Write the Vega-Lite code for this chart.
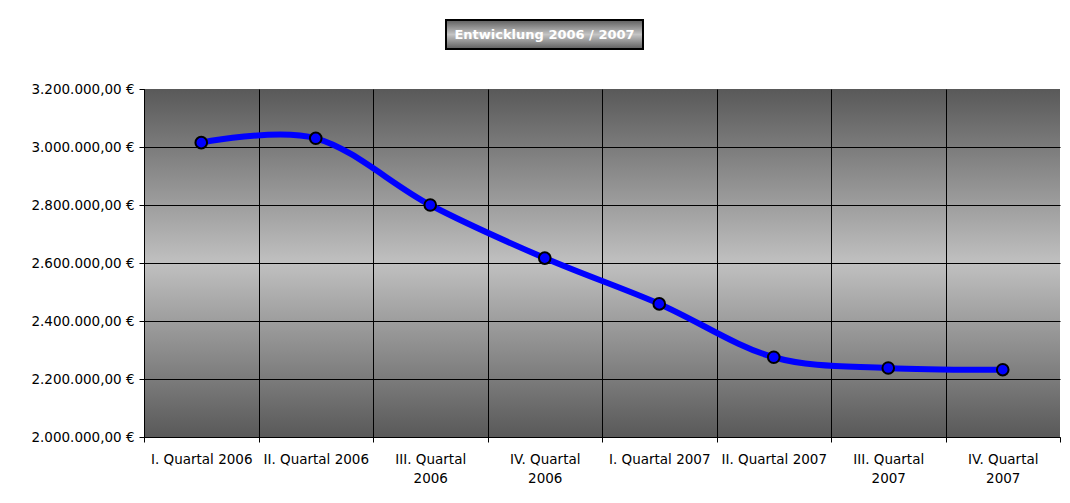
{
  "$schema": "https://vega.github.io/schema/vega-lite/v6.json",
  "background": "white",
  "padding": {"left": 30, "top": 19, "right": 5, "bottom": 5},
  "datasets": {
    "umsatz": [
      {"quartal": "I. Quartal 2006", "wert": 3015000},
      {"quartal": "II. Quartal 2006", "wert": 3030000},
      {"quartal": "III. Quartal 2006", "wert": 2800000},
      {"quartal": "IV. Quartal 2006", "wert": 2617000},
      {"quartal": "I. Quartal 2007", "wert": 2459000},
      {"quartal": "II. Quartal 2007", "wert": 2275000},
      {"quartal": "III. Quartal 2007", "wert": 2238000},
      {"quartal": "IV. Quartal 2007", "wert": 2232000}
    ],
    "titel": [{"text": "Entwicklung 2006 / 2007"}]
  },
  "center": false,
  "spacing": 32,
  "vconcat": [
    {
      "spacing": 11,
      "hconcat": [
        {
          "width": 290,
          "height": 29,
          "data": {"name": "titel"},
          "view": {"fill": null, "stroke": null},
          "mark": {"type": "text", "opacity": 0},
          "encoding": {"text": {"field": "text"}}
        },
        {
          "width": 197,
          "height": 29,
          "data": {"name": "titel"},
          "view": {
            "fill": {
              "gradient": "linear", "x1": 0, "y1": 0, "x2": 0, "y2": 1,
              "stops": [
                {"offset": 0, "color": "#5e5e5e"},
                {"offset": 0.5, "color": "#c4c4c4"},
                {"offset": 1, "color": "#5e5e5e"}
              ]
            },
            "stroke": "black",
            "strokeWidth": 2
          },
          "mark": {"type": "text", "font": "DejaVu Sans", "fontSize": 13, "fontWeight": "bold", "color": "white", "align": "center", "baseline": "middle"},
          "encoding": {"text": {"field": "text"}}
        }
      ]
    },
    {
      "width": 916,
      "height": 348,
      "data": {"name": "umsatz"},
      "view": {
        "fill": {
          "gradient": "linear", "x1": 0, "y1": 0, "x2": 0, "y2": 1,
          "stops": [
            {"offset": 0, "color": "#595959"},
            {"offset": 0.5, "color": "#c0c0c0"},
            {"offset": 1, "color": "#595959"}
          ]
        },
        "stroke": null
      },
      "encoding": {
        "x": {
          "field": "quartal",
          "type": "nominal",
          "sort": null,
          "bandPosition": 0.5,
          "scale": {"type": "band", "paddingInner": 0, "paddingOuter": 0},
          "axis": {
            "title": null,
            "tickBand": "extent",
            "grid": true,
            "gridColor": {"condition": {"test": "datum.value === 'IV. Quartal 2007'", "value": "transparent"}, "value": "black"},
            "gridWidth": 1,
            "labelAngle": 0,
            "labelPadding": 10,
            "labelLineHeight": 19,
            "labelExpr": "(indexof(datum.label, 'III.') == 0 || indexof(datum.label, 'IV.') == 0) ? [substring(datum.label, 0, length(datum.label) - 5), substring(datum.label, length(datum.label) - 4)] : datum.label"
          }
        },
        "y": {
          "field": "wert",
          "type": "quantitative",
          "scale": {"domain": [2000000, 3200000], "nice": false, "zero": false},
          "axis": {
            "title": null,
            "values": [2000000, 2200000, 2400000, 2600000, 2800000, 3000000, 3200000],
            "grid": true,
            "gridColor": {"condition": {"test": "datum.value === 3200000", "value": "transparent"}, "value": "black"},
            "gridWidth": 1,
            "labelPadding": 5,
            "minExtent": 113,
            "maxExtent": 113,
            "labelExpr": "replace(replace(replace(format(datum.value, ',.2f'), /,/g, '#'), /\\./g, ','), /#/g, '.') + ' €'"
          }
        }
      },
      "layer": [
        {"mark": {"type": "line", "interpolate": "cardinal", "color": "#0000ff", "strokeWidth": 6}},
        {"mark": {"type": "point", "shape": "circle", "filled": true, "fill": "#0000ff", "stroke": "black", "strokeWidth": 2, "size": 135, "opacity": 1}}
      ]
    }
  ],
  "config": {
    "font": "DejaVu Sans",
    "view": {"stroke": null},
    "axis": {
      "labelFont": "DejaVu Sans",
      "labelFontSize": 13.5,
      "labelColor": "black",
      "domainColor": "black",
      "domainWidth": 1,
      "tickColor": "black",
      "tickSize": 5,
      "tickWidth": 1
    }
  }
}
